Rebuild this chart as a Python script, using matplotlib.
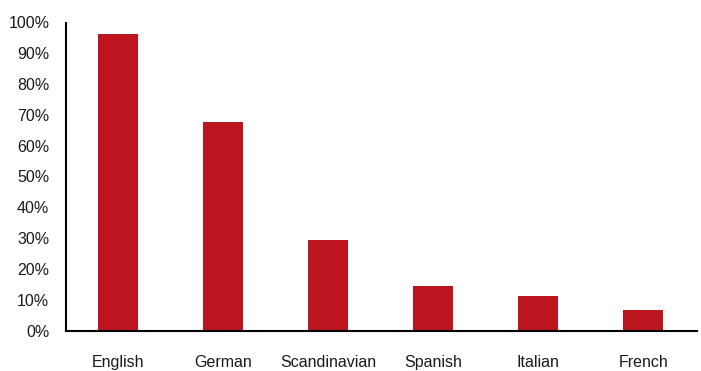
from matplotlib import pyplot as plt
from matplotlib.ticker import PercentFormatter
import numpy as np


languages = ["English", "German", "Scandinavian", "Spanish", "Italian", "French"]
shares = [96.1, 67.6, 29.4, 14.6, 11.3, 6.8]
y_ticks = list(range(0, 101, 10))

plt.rcParams["font.family"] = ["Liberation Sans", "DejaVu Sans"]

fig = plt.figure(figsize=(7.01, 3.71), dpi=100)
ax = fig.add_axes([66 / 701, 40 / 371, 631 / 701, 309 / 371])

x = np.arange(len(languages))
ax.bar(x, shares, width=0.38, color="#BD1520")

ax.set_xlim(-0.49, 5.51)
ax.set_ylim(0, 100)
ax.set_yticks(y_ticks)
ax.yaxis.set_major_formatter(PercentFormatter(decimals=0))
ax.set_xticks(x)
ax.set_xticklabels(languages)

ax.tick_params(axis="y", length=0, pad=12, labelsize=11.5, colors="#1a1a1a")
ax.tick_params(axis="x", length=0, pad=17, labelsize=11.5, colors="#1a1a1a")

for side in ["top", "right"]:
    ax.spines[side].set_visible(False)
for side in ["left", "bottom"]:
    ax.spines[side].set_linewidth(1.5)
    ax.spines[side].set_color("black")
ax.spines["left"].set_bounds(0, 99.7)

fig.savefig("out.png", dpi=100)
